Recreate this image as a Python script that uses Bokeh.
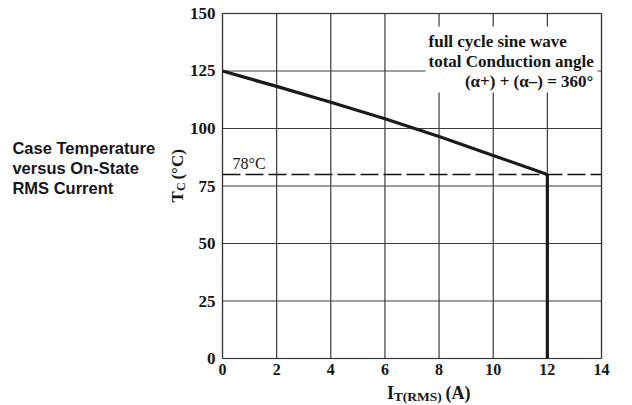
from bokeh.plotting import figure
from bokeh.models import Label, BoxAnnotation, Range1d, FixedTicker
from bokeh.embed import file_html
from bokeh.resources import INLINE
import math

# ---- data ----
current = [0, 2, 4, 6, 8, 10, 12]                     # I_T(RMS) (A)
case_temp = [125, 118.3, 111.4, 104.2, 96.5, 88.3, 80]  # T_C (°C)
rated_current = 12
rated_tc = 80          # drawn level of the "78°C" dashed line
rated_label = "78°C"
x_ticks = [0, 2, 4, 6, 8, 10, 12, 14]
y_ticks = [0, 25, 50, 75, 100, 125, 150]

SERIF = "Liberation Serif"
SANS = "Liberation Sans"
INK = "#151515"

# the frame covers the whole canvas so that every text can be placed freely;
# the chart area itself is 0..14 x 0..150
p = figure(width=632, height=405, min_border=0,
           x_range=Range1d(-8.2006, 15.145), y_range=Range1d(-20.43, 155.65),
           output_backend="svg", toolbar_location=None)
p.background_fill_color = "white"
p.border_fill_color = "white"
p.outline_line_color = None
p.xgrid.visible = False
p.ygrid.visible = False

for ax, ticks, fs, st, bnd in ((p.xaxis[0], x_ticks, "16px", 5, (0, 14)),
                               (p.yaxis[0], y_ticks, "17px", 7, (0, 150))):
    ax.fixed_location = 0
    ax.bounds = bnd
    ax.ticker = FixedTicker(ticks=ticks)
    ax.axis_line_color = None
    ax.major_tick_in = 0
    ax.major_tick_out = 0
    ax.minor_tick_in = 0
    ax.minor_tick_out = 0
    ax.major_label_text_font = SERIF
    ax.major_label_text_font_style = "bold"
    ax.major_label_text_font_size = fs
    ax.major_label_text_color = INK
    ax.major_label_standoff = st

# grid lines at the tick positions, limited to the chart area
GRID = "#3c3c3c"
p.segment(x0=x_ticks, y0=[y_ticks[0]] * len(x_ticks), x1=x_ticks, y1=[y_ticks[-1]] * len(x_ticks),
          line_color=GRID, line_width=1.2)
p.segment(x0=[x_ticks[0]] * len(y_ticks), y0=y_ticks, x1=[x_ticks[-1]] * len(y_ticks), y1=y_ticks,
          line_color=GRID, line_width=1.2)

# dashed rated-temperature line across the full width
p.line([x_ticks[0], x_ticks[-1]], [rated_tc, rated_tc], line_color="#111111",
       line_width=1.5, line_dash="18 5")
# derating curve
p.line(current, case_temp, line_color="#1a1a1a", line_width=3.2)
# vertical drop at rated current
p.segment(x0=[rated_current], y0=[rated_tc], x1=[rated_current], y1=[y_ticks[0]],
          line_color="#1a1a1a", line_width=3.2)

# white box behind the condition text
p.add_layout(BoxAnnotation(left=7.5, right=13.85, bottom=115.7, top=144.3,
                           fill_color="white", fill_alpha=1.0, line_color=None))
# chart border
p.add_layout(BoxAnnotation(left=x_ticks[0], right=x_ticks[-1], bottom=y_ticks[0], top=y_ticks[-1],
                           fill_alpha=0.0, line_color="#222222", line_width=1.5))

def lab(x, y, text, font=SERIF, size="17px", style="bold", align="left",
        baseline="middle", angle=0.0, color=INK):
    p.add_layout(Label(x=x, y=y, text=text, text_font=font, text_font_size=size,
                       text_font_style=style, text_align=align,
                       text_baseline=baseline, angle=angle, text_color=color))

# condition text
lab(7.61, 137.8, "full cycle sine wave")
lab(7.61, 129.0, "total Conduction angle")
lab(13.7, 120.4, "(α+) + (α–) = 360°", align="right")

# 78°C label
lab(0.37, 84.8, rated_label, size="16px", style="normal")

# left title
for i, t in enumerate(["Case Temperature", "versus On-State", "RMS Current"]):
    lab(-7.76, 91.7 - 8.7 * i, t, font=SANS, size="16.5px", color="#15151c")

# y-axis label T_C (°C), rotated
ang = math.pi / 2
lab(-1.66, 67.8, "T", size="17px", baseline="alphabetic", angle=ang)
lab(-1.55, 72.8, "C", size="12px", baseline="alphabetic", angle=ang)
lab(-1.66, 77.8, "(°C)", size="17px", baseline="alphabetic", angle=ang)

# x-axis label I_T(RMS) (A)
lab(6.08, -15.0, "I", size="18px", baseline="alphabetic")
lab(6.33, -16.5, "T(RMS)", size="13.5px", baseline="alphabetic")
lab(8.24, -15.0, "(A)", size="18px", baseline="alphabetic")

open("out.html", "w").write(file_html(p, INLINE))
